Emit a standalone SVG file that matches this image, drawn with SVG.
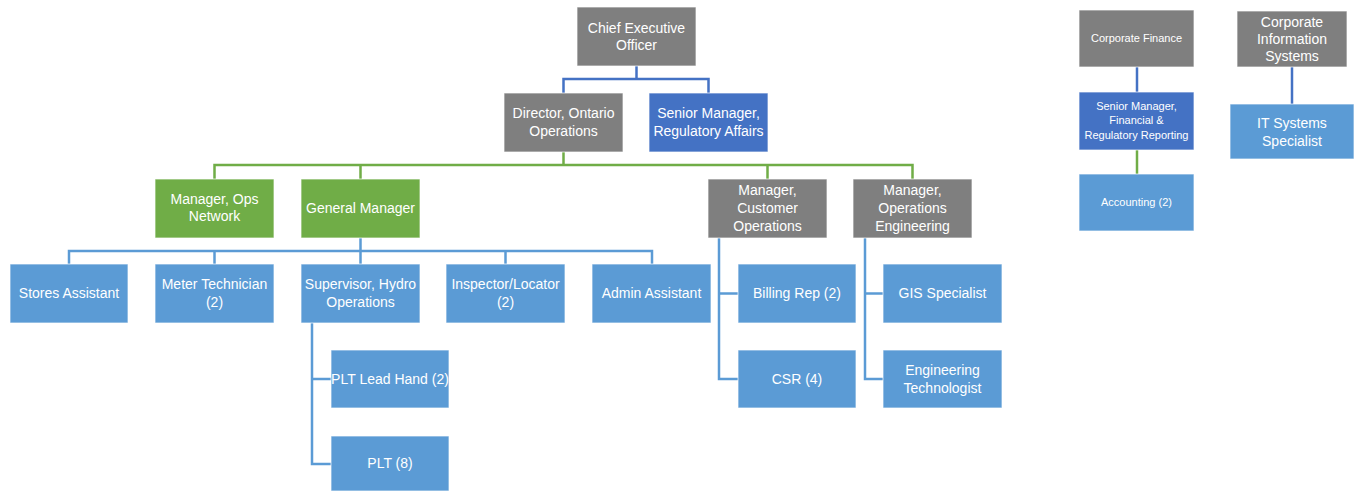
<svg xmlns="http://www.w3.org/2000/svg" width="1356" height="491" viewBox="0 0 1356 491">
<style>
rect{stroke:#ffffff;stroke-width:1;stroke-opacity:0.7}
.g{fill:#7f7f7f}
.gr{fill:#70ad47}
.b{fill:#5b9bd5}
.db{fill:#4472c4}
text{font-family:"Liberation Sans",Arial,sans-serif;font-size:14px;fill:#ffffff;text-anchor:middle}
text.s{font-size:11px}
.c{fill:none;stroke-width:2.5}
.cb{stroke:#4472c4}
.cg{stroke:#70ad47}
.cl{stroke:#5b9bd5}
</style>
<rect width="1356" height="491" fill="#ffffff" stroke="none"/>
<g id="connectors">
<polyline class="c cb" points="563.5,93 563.5,79 708.5,79 708.5,93"/>
<line class="c cb" x1="636.5" y1="66" x2="636.5" y2="79"/>
<polyline class="c cg" points="214.5,179 214.5,165 912.5,165 912.5,179"/>
<line class="c cg" x1="563.5" y1="152" x2="563.5" y2="165"/>
<line class="c cg" x1="360.5" y1="165" x2="360.5" y2="179"/>
<line class="c cg" x1="767.5" y1="165" x2="767.5" y2="179"/>
<polyline class="c cl" points="69,264 69,251 652,251 652,264"/>
<line class="c cl" x1="360.5" y1="238" x2="360.5" y2="264"/>
<line class="c cl" x1="214.5" y1="251" x2="214.5" y2="264"/>
<line class="c cl" x1="505.5" y1="251" x2="505.5" y2="264"/>
<polyline class="c cl" points="312,323 312,464 331,464"/>
<line class="c cl" x1="312" y1="379" x2="331" y2="379"/>
<polyline class="c cl" points="719,238 719,379 738,379"/>
<line class="c cl" x1="719" y1="293.5" x2="738" y2="293.5"/>
<polyline class="c cl" points="865,238 865,379 883,379"/>
<line class="c cl" x1="865" y1="293.5" x2="883" y2="293.5"/>
<line class="c cb" x1="1137" y1="67" x2="1137" y2="92"/>
<line class="c cg" x1="1137" y1="150" x2="1137" y2="174"/>
<line class="c cb" x1="1292" y1="67" x2="1292" y2="104"/>
</g>
<g id="ceo"><rect class="g" x="577" y="7" width="119" height="59"/><text x="636.5" y="33">Chief Executive</text><text x="636.5" y="50">Officer</text></g>
<g id="director"><rect class="g" x="504" y="93" width="119" height="59"/><text x="563.5" y="118">Director, Ontario</text><text x="563.5" y="136">Operations</text></g>
<g id="srmgr-reg"><rect class="db" x="649" y="93" width="119" height="59"/><text x="708.5" y="118">Senior Manager,</text><text x="708.5" y="136">Regulatory Affairs</text></g>
<g id="mgr-ops-network"><rect class="gr" x="155" y="179" width="119" height="59"/><text x="214.5" y="204">Manager, Ops</text><text x="214.5" y="221">Network</text></g>
<g id="general-manager"><rect class="gr" x="301" y="179" width="119" height="59"/><text x="360.5" y="213">General Manager</text></g>
<g id="mgr-customer-ops"><rect class="g" x="708" y="179" width="119" height="59"/><text x="767.5" y="195">Manager,</text><text x="767.5" y="213">Customer</text><text x="767.5" y="231">Operations</text></g>
<g id="mgr-ops-eng"><rect class="g" x="853" y="179" width="119" height="59"/><text x="912.5" y="195">Manager,</text><text x="912.5" y="213">Operations</text><text x="912.5" y="231">Engineering</text></g>
<g id="stores-assistant"><rect class="b" x="10" y="264" width="118" height="59"/><text x="69" y="298">Stores Assistant</text></g>
<g id="meter-technician"><rect class="b" x="155" y="264" width="119" height="59"/><text x="214.5" y="289">Meter Technician</text><text x="214.5" y="307">(2)</text></g>
<g id="supervisor"><rect class="b" x="301" y="264" width="119" height="59"/><text x="360.5" y="289">Supervisor, Hydro</text><text x="360.5" y="307">Operations</text></g>
<g id="inspector"><rect class="b" x="446" y="264" width="119" height="59"/><text x="505.5" y="289">Inspector/Locator</text><text x="505.5" y="307">(2)</text></g>
<g id="admin-assistant"><rect class="b" x="592" y="264" width="119" height="59"/><text x="651.5" y="298">Admin Assistant</text></g>
<g id="billing-rep"><rect class="b" x="738" y="264" width="118" height="59"/><text x="797" y="298">Billing Rep (2)</text></g>
<g id="gis-specialist"><rect class="b" x="883" y="264" width="119" height="59"/><text x="942.5" y="298">GIS Specialist</text></g>
<g id="plt-lead-hand"><rect class="b" x="331" y="350" width="118" height="58"/><text x="390" y="384">PLT Lead Hand (2)</text></g>
<g id="plt"><rect class="b" x="331" y="436" width="118" height="55"/><text x="390" y="468">PLT (8)</text></g>
<g id="csr"><rect class="b" x="738" y="350" width="118" height="58"/><text x="797" y="384">CSR (4)</text></g>
<g id="eng-tech"><rect class="b" x="883" y="350" width="119" height="58"/><text x="942.5" y="375">Engineering</text><text x="942.5" y="393">Technologist</text></g>
<g id="corp-finance"><rect class="g" x="1079" y="10" width="115" height="57"/><text class="s" x="1136.5" y="42">Corporate Finance</text></g>
<g id="srmgr-fin"><rect class="db" x="1079" y="92" width="115" height="58"/><text class="s" x="1136.5" y="110">Senior Manager,</text><text class="s" x="1136.5" y="124">Financial &amp;</text><text class="s" x="1136.5" y="139">Regulatory Reporting</text></g>
<g id="accounting"><rect class="b" x="1079" y="174" width="115" height="57"/><text class="s" x="1136.5" y="206">Accounting (2)</text></g>
<g id="corp-info-systems"><rect class="g" x="1237" y="11" width="110" height="56"/><text x="1292" y="27">Corporate</text><text x="1292" y="44">Information</text><text x="1292" y="61">Systems</text></g>
<g id="it-systems"><rect class="b" x="1230" y="104" width="124" height="55"/><text x="1292" y="128">IT Systems</text><text x="1292" y="146">Specialist</text></g>
</svg>
